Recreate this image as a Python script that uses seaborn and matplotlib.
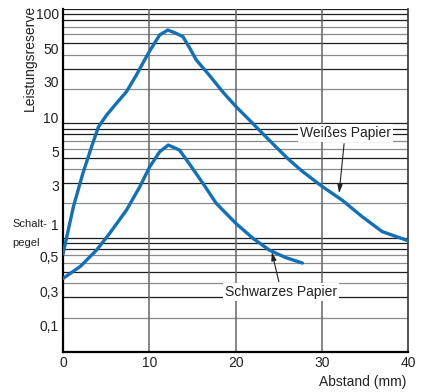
import numpy as np
import pandas as pd
import matplotlib
matplotlib.use("Agg")
import matplotlib.pyplot as plt
import seaborn as sns
from matplotlib.transforms import ScaledTranslation

# Values: Abstand (mm) vs Leistungsreserve
weiss_x = [0.0, 1.2, 2.3, 3.3, 4.1, 5.05, 6.2, 7.35, 8.5, 9.45, 10.05, 11.2, 12.15,
           13.1, 13.9, 14.7, 15.45, 16.95, 18.5, 20.05, 21.6, 23.1, 24.7, 26.2,
           27.75, 30.05, 32.35, 34.7, 37.0, 40.0]
weiss_y = [0.72, 1.86, 3.65, 6.2, 9.3, 11.8, 15.0, 18.9, 26.4, 35.8, 43.0, 59.3, 65.5,
           61.3, 57.3, 45.3, 35.8, 26.4, 18.9, 14.0, 10.7, 8.2, 6.2, 4.8,
           3.8, 2.8, 2.13, 1.52, 1.13, 0.94]

schwarz_x = [0.0, 2.0, 3.9, 5.4, 7.35, 8.9, 10.05, 11.2, 12.2, 13.5, 14.6, 16.2,
             17.75, 20.05, 22.0, 23.9, 25.8, 27.75]
schwarz_y = [0.44, 0.56, 0.78, 1.09, 1.74, 2.79, 4.17, 5.64, 6.46, 5.84, 4.47, 3.0,
             2.0, 1.33, 0.99, 0.78, 0.67, 0.60]

x_ticks = [0, 10, 20, 30, 40]
y_ticks = [100, 50, 30, 10, 5, 3, 1, 0.5, 0.3, 0.1]
y_labels = ["100", "50", "30", "10", "5", "3", "1", "0,5", "0,3", "0,1"]

df = pd.concat([
    pd.DataFrame({"Abstand": weiss_x, "Reserve": weiss_y, "Papier": "Weißes Papier"}),
    pd.DataFrame({"Abstand": schwarz_x, "Reserve": schwarz_y, "Papier": "Schwarzes Papier"}),
])

sns.set_style("white")
plt.rcParams["font.family"] = ["Liberation Sans", "DejaVu Sans"]
text_color = "#222222"
blue = "#1270b8"

fig = plt.figure(figsize=(4.24, 3.92), dpi=100)
ax = fig.add_axes([0.1486, 0.102, 0.814, 0.875])

# log grid like printed paper
for e in (-1, 0, 1):
    for m in range(1, 10):
        v = m * 10.0 ** e
        col = "#8a8a8a" if m in (2, 4, 6, 7) else "#1e1e1e"
        ax.axhline(v, color=col, lw=0.9, zorder=1)
ax.axhline(100, color="#1e1e1e", lw=0.9, zorder=1)
for xv in x_ticks[1:-1]:
    ax.axvline(xv, color="#666666", lw=1.1, zorder=1)

sns.lineplot(data=df, x="Abstand", y="Reserve", hue="Papier",
             palette=[blue, blue], linewidth=2.4, legend=False, ax=ax, zorder=3)
for ln in ax.get_lines()[-2:]:
    ln.set_solid_joinstyle("round")
    ln.set_solid_capstyle("round")

ax.set_yscale("log")
ax.set_xlim(0, 40)
ax.set_ylim(0.1, 100)
ax.set_xticks(x_ticks)
ax.set_xticklabels([str(t) for t in x_ticks])
ax.set_yticks(y_ticks)
ax.set_yticklabels(y_labels)
ax.minorticks_off()
ax.tick_params(length=0, labelsize=10, colors=text_color, pad=3)
ax.set_xlabel("")
ax.set_ylabel("")

# the printed labels sit a little off their lines
nudges = [-4, -5, -13, 6, 6, -2, 13, 16, 6, 27]
for lab, dy in zip(ax.get_yticklabels(), nudges):
    lab.set_transform(lab.get_transform() + ScaledTranslation(0, dy / 100, fig.dpi_scale_trans))

for side in ("left", "bottom"):
    ax.spines[side].set_color("black")
    ax.spines[side].set_linewidth(1.6)
ax.spines["right"].set_color("#333333")
ax.spines["right"].set_linewidth(1.2)
ax.spines["top"].set_visible(False)

fig.text(30 / 424, 1 - 5 / 392, "Leistungsreserve", rotation=90, ha="center",
         va="top", fontsize=10, color=text_color)
fig.text(12 / 424, 1 - 224 / 392, "Schalt-", ha="left", va="center",
         fontsize=8, color=text_color)
fig.text(12 / 424, 1 - 243 / 392, "pegel", ha="left", va="center",
         fontsize=8, color=text_color)
fig.text(406 / 424, 1 - 382 / 392, "Abstand (mm)", ha="right", va="center",
         fontsize=10, color=text_color)

box = dict(boxstyle="square,pad=0.15", fc="white", ec="none")
arrow = dict(arrowstyle="-|>,head_length=0.5,head_width=0.15", color="#222222",
             lw=0.8, shrinkA=1, shrinkB=0)
ax.annotate("Weißes Papier", xy=(32.0, 2.45), xytext=(32.7, 8.2),
            ha="center", va="center", fontsize=10, color=text_color,
            bbox=box, arrowprops=arrow, zorder=4)
ax.annotate("Schwarzes Papier", xy=(24.2, 0.75), xytext=(25.3, 0.334),
            ha="center", va="center", fontsize=10, color=text_color,
            bbox=box, arrowprops=arrow, zorder=4)

fig.savefig("out.png", dpi=100)
